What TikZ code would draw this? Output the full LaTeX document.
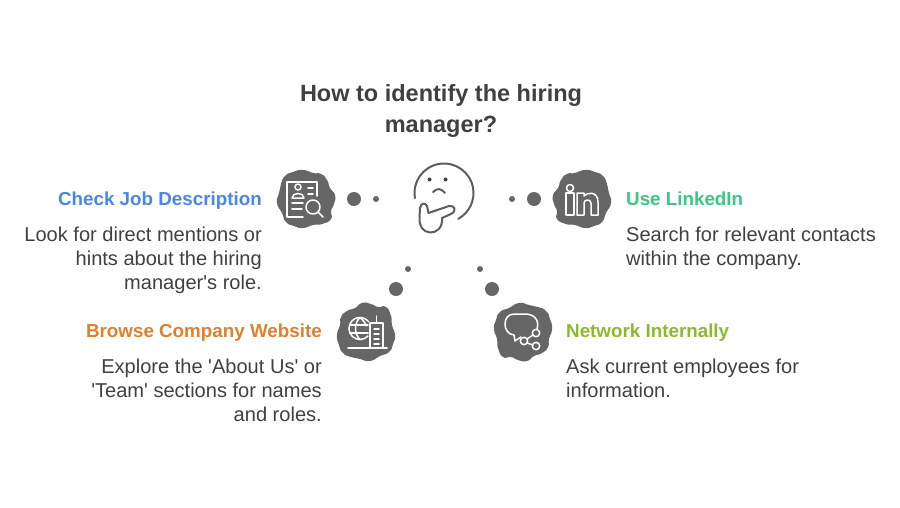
\documentclass[tikz,border=0pt]{standalone}
\usepackage{xcolor}
\usepackage{fontspec}
\setmainfont{Liberation Sans}
\usetikzlibrary{positioning}
\definecolor{inkgrey}{RGB}{64,64,64}
\definecolor{blobgrey}{RGB}{102,102,102}
\definecolor{headblue}{RGB}{74,134,232}
\definecolor{headgreen}{RGB}{60,197,131}
\definecolor{headorange}{RGB}{224,127,46}
\definecolor{headlime}{RGB}{141,185,46}

\tikzset{
    titlebox/.style={align=center, inner sep=0pt, text=inkgrey, font=\fontsize{23.5}{31}\selectfont\bfseries},
    heading/.style={inner sep=0pt, text=#1, font=\fontsize{18.8}{24}\selectfont\bfseries},
    bodytext/.style={inner sep=0pt, text=inkgrey, font=\fontsize{20.05}{24}\selectfont},
    bigdot/.style={circle, fill=blobgrey, inner sep=0pt, minimum size=14pt},
    smalldot/.style={circle, fill=blobgrey, inner sep=0pt, minimum size=6pt},
    iconline/.style={draw=white, line width=1.5pt, line cap=round, line join=round},
    thinkline/.style={draw=inkgrey!85, line width=2pt, line cap=round, line join=round},
    blob/.pic={
        \fill[blobgrey] plot[smooth cycle, tension=1] coordinates {
            (-13,-27) (-3,-29) (7,-26) (15,-25) (21,-19) (24,-11) (29,-4) (28,5)
            (25,12) (25,20) (16,25) (7,26) (-3,29) (-12,27) (-20,23) (-24,14)
            (-29,4) (-27,-6) (-25,-15) (-21,-23)};
    }
}

\begin{document}
\begin{tikzpicture}[x=1pt, y=-1pt]
\useasboundingbox (0,0) rectangle (900,507);

% Title
\node[titlebox] (title) at (441,110.5) {How to identify the hiring\\manager?};

% Blobs behind the icons
\pic at (306,199) {blob};
\pic[xscale=-1] at (582,199) {blob};
\pic[rotate=90] at (366,332) {blob};
\pic[rotate=-90] at (523,332) {blob};

% Thinking face
\draw[thinkline] (444,193) ++(170:29.5) arc[start angle=170, end angle=421, radius=29.5];
\fill[inkgrey] (429.5,179.5) circle (2) (445.5,179.5) circle (2);
\draw[thinkline] (433,192) .. controls (437,188) and (441,188) .. (445,193);
\draw[thinkline] (420,208) .. controls (421,203) and (425,202) .. (427,206)
    -- (428.5,213) -- (449,206) .. controls (455,205) and (457,211) .. (451,214)
    -- (442,218) .. controls (443,228) and (436,233) .. (430,232.5)
    .. controls (423,232) and (419,226) .. (419.5,218) -- cycle;

% Check Job Description icon
\begin{scope}[shift={(306,199)}]
\draw[iconline] (-3,18) -- (-19,18) -- (-19,-17) -- (11,-17) -- (11,-3);
\draw[iconline] (-8,-12) circle (3);
\draw[iconline] (-14,-1) .. controls (-14,-7) and (-2,-7) .. (-2,-1) -- cycle;
\draw[iconline] (2,-11) -- (7,-11) (2,-5) -- (7,-5);
\draw[iconline] (-14,4) -- (-3,4) (-14,10) -- (-4,10);
\draw[iconline] (7,8) circle (7);
\draw[iconline] (12,13) -- (17,18);
\end{scope}

% LinkedIn icon
\begin{scope}[shift={(582,199)}]
\draw[iconline] (-12,-11) circle (3.5);
\draw[iconline] (-16,-6) rectangle (-8,16);
\draw[iconline] (-5,16) -- (-5,-6) -- (2,-6) -- (2,-3)
    .. controls (5,-7) and (16,-8) .. (16,3) -- (16,16) -- (9,16) -- (9,4)
    .. controls (9,0) and (2,0) .. (2,4) -- (2,16) -- cycle;
\end{scope}

% Website icon
\begin{scope}[shift={(366,332)}]
\draw[iconline] (2,4) arc[start angle=43, end angle=322, radius=11];
\draw[iconline] (-6,-14.5) .. controls (-12,-9) and (-12,2) .. (-6,7.5);
\draw[iconline] (-6,-14.5) .. controls (-2,-11) and (0,-8) .. (0,-6);
\draw[iconline] (-16,-7) -- (2,-7) (-16,1) -- (2,1);
\draw[iconline] (4,16) -- (4,-9) -- (17,-9) -- (17,16);
\draw[iconline] (10.5,-9) -- (10.5,-16);
\draw[iconline] (8,-3) -- (13,-3) (8,2) -- (13,2) (8,7) -- (13,7) (8,12) -- (13,12);
\draw[iconline] (-18,16) -- (21,16);
\end{scope}

% Network icon
\begin{scope}[shift={(523,332)}]
\draw[iconline] (14,-3) .. controls (17,-13) and (10,-18) .. (2,-18)
    -- (-9,-18) .. controls (-21,-18) and (-21,2) .. (-9,3) -- (-8,9) -- (-2,5);
\draw[iconline] (13,1) circle (3.7) (1,9) circle (3.7) (13,14) circle (3.7);
\draw[iconline] (10,3) -- (4,7) (4,11) -- (10,13);
\end{scope}

% Dots between the face and the icons
\node[bigdot] (dotcheckbig) at (354,199) {};
\node[smalldot] (dotcheck) at (376,199) {};
\node[smalldot] (dotlinked) at (512,199) {};
\node[bigdot] (dotlinkedbig) at (534,199) {};
\node[smalldot] (dotweb) at (408,269) {};
\node[bigdot] (dotwebbig) at (396,289) {};
\node[smalldot] (dotnet) at (480,269) {};
\node[bigdot] (dotnetbig) at (492,289) {};

% Left labels
\node[heading=headblue, anchor=base east] (checkhead) at (262,205.5) {Check Job Description};
\node[bodytext, anchor=north east, align=right] (checkbody) at (262,227)
    {Look for direct mentions or\\hints about the hiring\\manager\textquotesingle s role.};
\node[heading=headorange, anchor=base east] (webhead) at (322,337.5) {Browse Company Website};
\node[bodytext, anchor=north east, align=right] (webbody) at (322,359)
    {Explore the \textquotesingle About Us\textquotesingle{} or\\\textquotesingle Team\textquotesingle{} sections for names\\and roles.};

% Right labels
\node[heading=headgreen, anchor=base west] (linkedhead) at (626,205.5) {Use LinkedIn};
\node[bodytext, anchor=north west, align=left] (linkedbody) at (626,227)
    {Search for relevant contacts\\within the company.};
\node[heading=headlime, anchor=base west] (nethead) at (566,337.5) {Network Internally};
\node[bodytext, anchor=north west, align=left] (netbody) at (566,359)
    {Ask current employees for\\information.};

\end{tikzpicture}
\end{document}
